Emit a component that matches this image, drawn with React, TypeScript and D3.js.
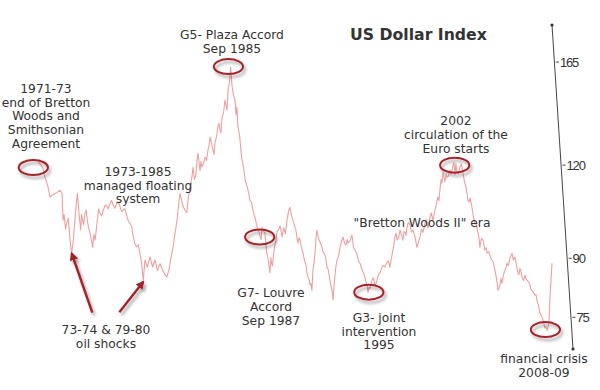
import * as d3 from "d3";
import React, { useEffect, useRef } from "react";

// readings of the index, [decimal year, value], split by era
const brettonEnd: [number, number][] = [
  [1971.93, 121.2], [1972.1, 120.3], [1972.29, 118.8], [1972.43, 115.3], [1972.5, 114.6],
  [1972.65, 112.0], [1972.79, 108.7], [1973.0, 109.5], [1973.3, 110.3], [1973.5, 111.0],
  [1973.65, 110.0], [1973.72, 101.2], [1973.8, 103.0], [1973.9, 98.5], [1973.98, 100.3],
  [1974.1, 101.8], [1974.22, 95.2], [1974.34, 91.4],
];
const managedFloat: [number, number][] = [
  [1974.46, 95.2], [1974.65, 105.5], [1974.75, 110.0], [1974.89, 102.3], [1974.99, 98.2],
  [1975.05, 103.0], [1975.13, 101.2], [1975.2, 99.8], [1975.3, 103.4], [1975.38, 104.5],
  [1975.46, 101.2], [1975.55, 99.0], [1975.66, 97.2], [1975.75, 95.5], [1975.85, 93.1],
  [1975.93, 96.8], [1976.02, 95.2], [1976.1, 98.0], [1976.18, 101.2], [1976.28, 104.8],
  [1976.37, 103.4], [1976.5, 102.6], [1976.61, 104.4], [1976.72, 105.9], [1976.85, 106.1],
  [1976.95, 104.8], [1977.09, 106.6], [1977.2, 107.6], [1977.33, 106.1], [1977.45, 105.0],
  [1977.57, 106.7], [1977.7, 107.0], [1977.81, 105.5], [1977.92, 104.0], [1978.04, 104.4],
  [1978.15, 104.9], [1978.29, 102.8], [1978.4, 101.0], [1978.53, 100.3], [1978.65, 99.2],
  [1978.76, 96.3], [1978.88, 94.0], [1979.0, 93.2], [1979.12, 93.9], [1979.24, 91.4],
  [1979.36, 88.6], [1979.48, 84.1], [1979.6, 89.5], [1979.77, 87.6], [1979.96, 90.4],
  [1980.15, 87.6], [1980.32, 89.5], [1980.49, 86.7], [1980.68, 88.5], [1980.92, 86.3],
  [1981.16, 84.9], [1981.3, 86.5], [1981.61, 93.1], [1981.9, 101.2], [1982.11, 110.0],
  [1982.2, 108.3], [1982.3, 106.0], [1982.47, 104.4], [1982.6, 103.6], [1982.69, 107.7],
  [1982.83, 112.1], [1982.95, 115.0], [1983.05, 119.3], [1983.15, 114.8], [1983.26, 116.6],
  [1983.33, 121.5], [1983.4, 124.6], [1983.55, 118.0], [1983.62, 121.4], [1983.69, 119.3],
  [1983.8, 120.5], [1983.91, 123.0], [1984.02, 121.8], [1984.12, 125.7], [1984.2, 127.6],
  [1984.27, 130.9], [1984.38, 128.2], [1984.48, 125.7], [1984.55, 124.0], [1984.62, 128.5],
  [1984.73, 131.0], [1984.84, 135.0], [1984.91, 136.6], [1984.98, 133.7], [1985.05, 132.5],
  [1985.13, 139.2], [1985.24, 141.2], [1985.34, 146.7], [1985.41, 144.5], [1985.48, 142.2],
  [1985.52, 146.4], [1985.56, 151.3], [1985.66, 155.0], [1985.75, 162.5],
];
const plazaLouvre: [number, number][] = [
  [1985.84, 153.7], [1985.92, 149.9], [1986.06, 146.7], [1986.13, 140.3], [1986.2, 143.6],
  [1986.27, 135.0], [1986.35, 132.8], [1986.42, 129.7], [1986.5, 124.6], [1986.56, 121.9],
  [1986.63, 120.5], [1986.7, 118.2], [1986.78, 114.6], [1986.88, 113.2], [1986.99, 111.1],
  [1987.06, 109.5], [1987.13, 107.7], [1987.25, 106.9], [1987.35, 104.4], [1987.42, 103.0],
  [1987.49, 102.2], [1987.6, 100.0], [1987.71, 98.2], [1987.78, 97.6], [1987.85, 96.4],
  [1987.93, 95.4], [1988.0, 99.1], [1988.1, 98.0], [1988.21, 97.2], [1988.32, 92.0],
  [1988.45, 89.5], [1988.5, 87.8], [1988.57, 86.0], [1988.63, 90.2], [1988.69, 88.5],
  [1988.75, 87.9], [1988.81, 90.4], [1988.9, 93.3], [1989.0, 95.2], [1989.08, 97.8],
  [1989.17, 98.2], [1989.3, 99.5], [1989.43, 96.1], [1989.55, 98.9], [1989.68, 97.0],
  [1989.79, 101.2], [1989.9, 104.1], [1990.0, 105.4], [1990.1, 103.0], [1990.22, 101.2],
  [1990.32, 99.6], [1990.43, 98.2], [1990.5, 96.0], [1990.58, 94.3], [1990.65, 95.9],
  [1990.72, 95.2], [1990.83, 93.0], [1990.94, 91.4], [1991.05, 89.3], [1991.15, 88.1],
  [1991.22, 86.0], [1991.3, 84.9], [1991.37, 84.4], [1991.44, 82.9], [1991.5, 83.3],
  [1991.58, 81.5], [1991.65, 86.7], [1991.72, 88.5], [1991.8, 91.4], [1991.87, 95.8],
  [1991.94, 98.2], [1992.0, 96.7], [1992.08, 95.2], [1992.18, 94.4], [1992.3, 93.1],
  [1992.4, 91.5], [1992.51, 90.9], [1992.58, 89.9], [1992.66, 87.5], [1992.76, 86.8],
  [1992.87, 84.1], [1992.95, 82.6], [1993.02, 81.5], [1993.09, 79.1], [1993.15, 82.0],
  [1993.23, 85.4], [1993.3, 87.8], [1993.38, 89.5], [1993.48, 90.4], [1993.59, 93.1],
  [1993.7, 94.7], [1993.81, 96.1], [1993.92, 94.3], [1994.02, 93.7], [1994.1, 95.4],
  [1994.16, 94.3], [1994.3, 94.8], [1994.45, 96.7], [1994.56, 93.0], [1994.67, 92.3],
  [1994.78, 91.5], [1994.88, 90.0], [1994.95, 89.0], [1995.03, 88.6], [1995.14, 87.2],
  [1995.24, 86.3], [1995.3, 85.8], [1995.38, 84.9], [1995.45, 83.7], [1995.53, 82.9],
  [1995.6, 81.0], [1995.67, 82.3], [1995.74, 82.0], [1995.82, 83.0], [1995.89, 84.1],
  [1996.0, 84.7], [1996.1, 82.9], [1996.18, 83.3], [1996.25, 84.1], [1996.36, 85.6],
  [1996.46, 86.0],
];
const brettonII: [number, number][] = [
  [1996.57, 87.3], [1996.68, 88.0], [1996.82, 87.6], [1996.96, 88.9], [1997.07, 89.3],
  [1997.18, 87.5], [1997.28, 90.1], [1997.39, 92.3], [1997.46, 94.0], [1997.54, 96.1],
  [1997.61, 97.3], [1997.68, 95.2], [1997.8, 96.0], [1997.9, 98.2], [1998.0, 96.8],
  [1998.11, 95.2], [1998.18, 97.8], [1998.26, 97.5], [1998.33, 96.5], [1998.4, 99.1],
  [1998.5, 100.6], [1998.61, 99.7], [1998.72, 97.6], [1998.83, 98.2], [1998.97, 96.2],
  [1999.11, 93.1], [1999.22, 94.6], [1999.33, 96.1], [1999.44, 98.5], [1999.54, 97.5],
  [1999.62, 98.8], [1999.69, 100.3], [1999.8, 101.4], [1999.9, 98.8], [1999.98, 100.1],
  [2000.05, 102.2], [2000.15, 103.5], [2000.26, 101.2], [2000.34, 102.9], [2000.41, 104.4],
  [2000.52, 106.9], [2000.62, 108.7], [2000.69, 107.5], [2000.76, 111.1], [2000.84, 114.9],
  [2000.91, 113.5], [2000.98, 117.4], [2001.05, 115.8], [2001.12, 113.9], [2001.2, 116.7],
  [2001.27, 115.6], [2001.38, 116.0], [2001.48, 118.2], [2001.58, 116.6], [2001.7, 120.0],
  [2001.77, 121.0], [2001.84, 116.4], [2001.91, 120.5], [2001.98, 117.1], [2002.08, 116.8],
  [2002.2, 119.3], [2002.3, 120.4], [2002.41, 117.4], [2002.52, 114.0], [2002.63, 112.1],
  [2002.7, 110.2], [2002.77, 107.7], [2002.85, 107.0], [2002.92, 108.4], [2003.0, 106.8],
  [2003.06, 105.4], [2003.17, 102.0], [2003.28, 100.3], [2003.38, 99.8], [2003.49, 97.5],
  [2003.56, 96.0], [2003.63, 93.1], [2003.74, 95.7], [2003.85, 95.2], [2003.92, 93.8],
  [2003.99, 92.3], [2004.07, 93.0], [2004.14, 91.4], [2004.25, 91.9], [2004.35, 90.9],
  [2004.42, 89.8], [2004.5, 89.5], [2004.6, 88.8], [2004.71, 86.7], [2004.82, 84.5],
  [2004.93, 81.5], [2005.0, 82.0], [2005.07, 82.9], [2005.14, 84.6], [2005.21, 83.3],
  [2005.32, 85.5], [2005.42, 86.7], [2005.5, 87.3], [2005.57, 88.6], [2005.68, 88.0],
  [2005.78, 90.0], [2005.86, 90.7], [2005.93, 91.4], [2006.03, 89.5], [2006.14, 90.3],
  [2006.25, 88.3], [2006.36, 86.0], [2006.43, 85.6], [2006.5, 87.2], [2006.58, 86.4],
  [2006.65, 84.9], [2006.76, 84.0], [2006.86, 85.4], [2006.93, 84.6], [2007.0, 84.1],
  [2007.1, 83.8], [2007.22, 82.9], [2007.29, 81.8], [2007.36, 81.5], [2007.47, 81.0],
  [2007.57, 80.3], [2007.65, 80.5], [2007.72, 79.1], [2007.83, 77.8], [2007.94, 75.9],
  [2008.05, 75.4], [2008.15, 74.3], [2008.22, 73.6], [2008.29, 72.5], [2008.37, 72.9],
  [2008.44, 72.0], [2008.51, 72.7], [2008.58, 73.8], [2008.66, 79.8], [2008.73, 84.1],
  [2008.8, 88.6],
];

const axisTicks = [165, 120, 90, 75];

// circled events
const eventYears = [1971.59, 1985.59, 1987.83, 1995.66, 2001.82, 2008.33];
const eventValues = [119.1, 162.7, 96.1, 81.05, 120.0, 72.2];

// oil shock lows the arrows point at
const shockYears = [1974.34, 1979.48];
const shockValues = [91.4, 83.7];

const labels: { lines: string[]; x: number; y: number }[] = [
  { lines: ["1971-73", "end of Bretton", "Woods and", "Smithsonian", "Agreement"], x: 46, y: 92.8 },
  { lines: ["1973-1985", "managed floating", "system"], x: 138, y: 176 },
  { lines: ["G5- Plaza Accord", "Sep 1985"], x: 232, y: 38.8 },
  { lines: ["2002", "circulation of the", "Euro starts"], x: 456, y: 125.4 },
  { lines: ['"Bretton Woods II" era'], x: 422, y: 226.6 },
  { lines: ["G7- Louvre", "Accord", "Sep 1987"], x: 271, y: 297.2 },
  { lines: ["G3- joint", "intervention", "1995"], x: 379, y: 321.8 },
  { lines: ["financial crisis", "2008-09"], x: 544, y: 362.8 },
  { lines: ["73-74 & 79-80", "oil shocks"], x: 106, y: 334.4 },
];

export default function App() {
  const svgRef = useRef<SVGSVGElement>(null);
  const isRender = useRef(false);

  useEffect(() => {
    if (isRender.current || !svgRef.current) return;
    isRender.current = true;

    const width = 600, height = 390;
    const svg = d3.select(svgRef.current).attr("width", width).attr("height", height);

    const x = d3.scaleLinear().domain([1971, 2010]).range([25.1, 568.7]);
    const y = d3.scaleLog().domain([68, 185]).range([349, 25]);

    const defs = svg.append("defs");
    const f = defs.append("filter").attr("id", "shadow")
      .attr("x", "-50%").attr("y", "-50%").attr("width", "200%").attr("height", "200%");
    f.append("feDropShadow").attr("dx", 2).attr("dy", 3).attr("stdDeviation", 1.5)
      .attr("flood-color", "#000").attr("flood-opacity", 0.35);
    defs.append("marker").attr("id", "head")
      .attr("viewBox", "0 0 10 10").attr("refX", 8).attr("refY", 5)
      .attr("markerWidth", 3.6).attr("markerHeight", 3.6).attr("orient", "auto")
      .append("path").attr("d", "M0,0 L10,5 L0,10 z").attr("fill", "#a3232a");

    // the index line
    const data = [...brettonEnd, ...managedFloat, ...plazaLouvre, ...brettonII]
      .sort((a, b) => a[0] - b[0]);
    const line = d3.line<[number, number]>().x((d) => x(d[0])).y((d) => y(d[1]));
    svg.append("path").datum(data).attr("d", line)
      .attr("fill", "none").attr("stroke", "#eda0a0").attr("stroke-width", 1.1)
      .attr("stroke-linejoin", "round");

    // slanted value axis on the right
    const top = y.range()[1], bottom = y.range()[0];
    const ax = (py: number) => 552 + (py - top) * (21 / (bottom - top));
    const axis = svg.append("g").attr("fill", "#333").attr("stroke", "#444");
    axis.append("line").attr("x1", ax(top)).attr("y1", top).attr("x2", ax(bottom)).attr("y2", bottom)
      .attr("stroke-width", 1);
    axis.selectAll("circle").data([top, bottom]).enter().append("circle")
      .attr("cx", (d) => ax(d)).attr("cy", (d) => d).attr("r", 1.6).attr("stroke", "none");
    axisTicks.forEach((t) => {
      const py = y(t);
      axis.append("line").attr("x1", ax(py) + 1.5).attr("x2", ax(py) + 4.5)
        .attr("y1", py).attr("y2", py).attr("stroke-width", 1);
      axis.append("text").attr("x", ax(py) + 5.5).attr("y", py).attr("dy", "0.35em")
        .attr("stroke", "none").style("font-family", "Liberation Sans, Arial, sans-serif")
        .style("font-size", "13px").style("letter-spacing", "-1.2px").text(t);
    });

    // circles round the events
    svg.append("g").attr("filter", "url(#shadow)").selectAll("ellipse")
      .data(eventYears).enter().append("ellipse")
      .attr("cx", (d) => x(d)).attr("cy", (_, i) => y(eventValues[i]))
      .attr("rx", 14.6).attr("ry", 7.5)
      .attr("fill", "none").attr("stroke", "#a8242b").attr("stroke-width", 2);

    // arrows to the oil shocks
    const tails = [[92.3, 312.7], [119.3, 312.3]];
    svg.append("g").attr("filter", "url(#shadow)").selectAll("line")
      .data(shockYears).enter().append("line")
      .attr("x1", (_, i) => tails[i][0]).attr("y1", (_, i) => tails[i][1])
      .attr("x2", (d) => x(d)).attr("y2", (_, i) => y(shockValues[i]))
      .attr("stroke", "#a3232a").attr("stroke-width", 2.4).attr("marker-end", "url(#head)");

    // annotations
    const g = svg.append("g").style("font-family", "DejaVu Sans, Verdana, sans-serif")
      .style("font-size", "12.3px").attr("fill", "#333").attr("text-anchor", "middle");
    labels.forEach((l) => {
      const t = g.append("text").attr("x", l.x).attr("y", l.y);
      l.lines.forEach((s, i) => {
        t.append("tspan").attr("x", l.x).attr("dy", i === 0 ? 0 : 13.7).text(s);
      });
    });

    svg.append("text").attr("x", 350).attr("y", 40)
      .style("font-family", "DejaVu Sans, Verdana, sans-serif").style("font-size", "15.7px")
      .style("font-weight", "bold").attr("fill", "#333").text("US Dollar Index");
  }, []);

  return (
    <div style={{ position: "absolute", left: 0, top: 0, background: "#fff" }}>
      <svg ref={svgRef} style={{ display: "block" }} />
    </div>
  );
}
